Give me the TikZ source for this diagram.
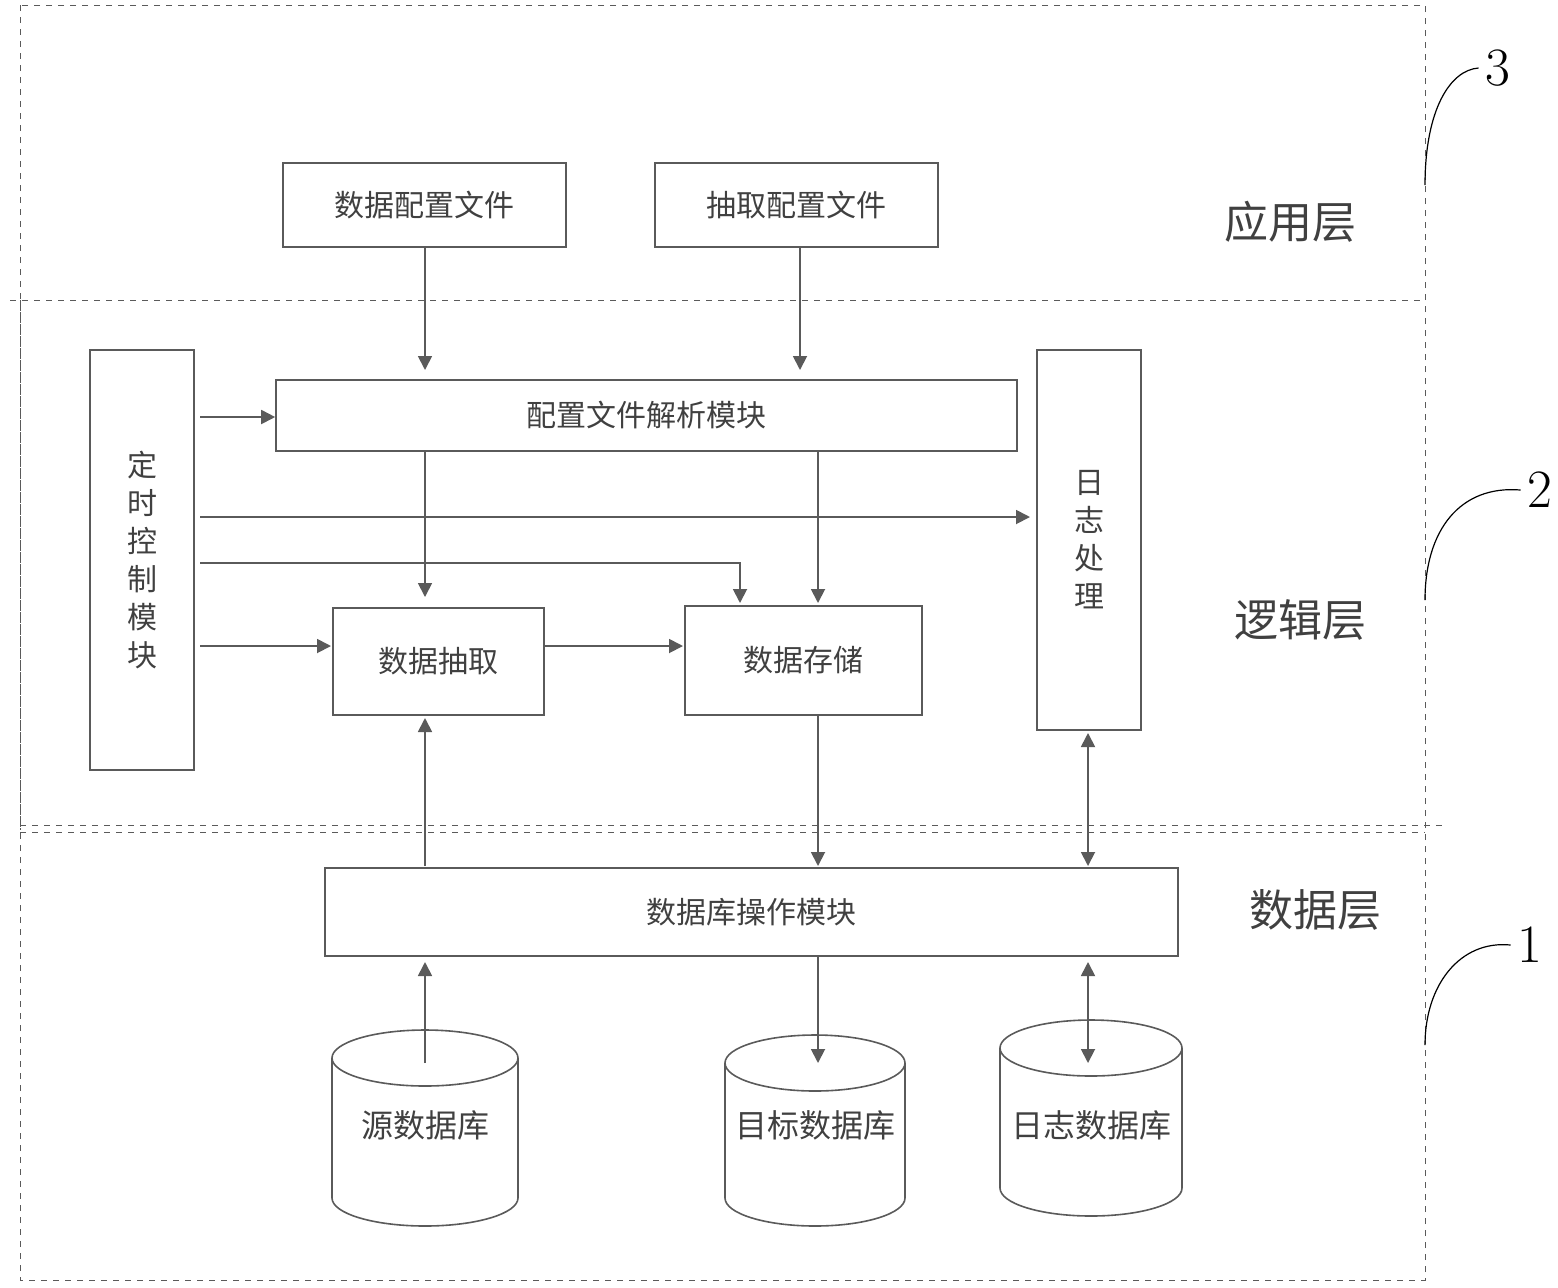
\documentclass[tikz,border=0pt]{standalone}
\usepackage{fontspec}
\newfontfamily\cjk{Noto Sans CJK SC}
\usetikzlibrary{arrows.meta}
\definecolor{ln}{RGB}{90,90,90}
\begin{document}
\begin{tikzpicture}[x=0.5pt,y=-0.5pt,
 box/.style={draw=ln,line width=0.8pt},
 lbl/.style={font=\cjk\fontsize{15}{15}\selectfont,text=black!75},
 lay/.style={font=\cjk\fontsize{22}{22}\selectfont,text=black!75},
 num/.style={font=\fontsize{27}{27}\selectfont},
 ar/.style={draw=ln,line width=0.9pt,-{Triangle[length=7pt,width=7pt]}},
 dar/.style={draw=ln,line width=0.9pt,{Triangle[length=7pt,width=7pt]}-{Triangle[length=7pt,width=7pt]}},
 dsh/.style={draw=ln,dashed,line width=0.5pt}]
\useasboundingbox (0,0) rectangle (1558,1287);
% frames
\draw[dsh] (20,5) rectangle (1425,1280);
\draw[dsh] (10,300) -- (1425,300);
\draw[dsh] (20,300) -- (20,830);
\draw[dsh] (20,825) -- (1445,825);
\draw[dsh] (20,832) -- (1425,832);
% boxes
\node[box,minimum width=141.5pt,minimum height=42pt,lbl] (dcf) at (424.5,205) {数据配置文件};
\node[box,minimum width=141.5pt,minimum height=42pt,lbl] (ecf) at (796.5,205) {抽取配置文件};
\node[box,minimum width=370.5pt,minimum height=35.5pt,lbl] (parse) at (646.5,415.5) {配置文件解析模块};
\node[box,minimum width=52pt,minimum height=210pt,lbl,align=center] (timer) at (142,560) {定\\[4pt]时\\[4pt]控\\[4pt]制\\[4pt]模\\[4pt]块};
\node[box,minimum width=52pt,minimum height=190pt,lbl,align=center] (log) at (1089,540) {日\\[4pt]志\\[4pt]处\\[4pt]理};
\node[box,minimum width=105.5pt,minimum height=53.5pt,lbl] (ext) at (438.5,661.5) {数据抽取};
\node[box,minimum width=118.5pt,minimum height=54.5pt,lbl] (sto) at (803.5,660.5) {数据存储};
\node[box,minimum width=426.5pt,minimum height=44pt,lbl] (dbop) at (751.5,912) {数据库操作模块};
% cylinders
\foreach \n/\cx/\rx/\t/\b/\txt in {src/425/93/1058/1198/源数据库, tgt/815/90/1063/1198/目标数据库, ldb/1091/91/1048/1188/日志数据库}{
 \draw[box] (\cx-\rx,\t) -- (\cx-\rx,\b) arc[start angle=180,end angle=0,x radius=\rx,y radius=28] -- (\cx+\rx,\t);
 \draw[box] (\cx,\t) ellipse[x radius=\rx,y radius=28];
 \node[lbl,font=\cjk\fontsize{16}{16}\selectfont] (\n) at (\cx,1125) {\txt};
}
\coordinate (srcT) at (425,1063);
\coordinate (tgtT) at (818,1063);
\coordinate (ldbT) at (1088,1063);
% layer labels
\node[lay] at (1290,222) {应用层};
\node[lay] at (1300,620) {逻辑层};
\node[lay] at (1315,910) {数据层};
\node[num] (n3) at (1498,68) {3};
\node[num] (n2) at (1540,490) {2};
\node[num] (n1) at (1530,945) {1};
\draw[line width=0.6pt] (1425,185) .. controls (1425,110) and (1450,70) .. (n3.west);
\draw[line width=0.6pt] (1425,600) .. controls (1425,530) and (1460,485) .. (n2.west);
\draw[line width=0.6pt] (1425,1045) .. controls (1425,985) and (1460,940) .. (n1.west);
% arrows
\draw[ar] (dcf.south -| 425,0) -- (425,370);
\draw[ar] (800,247) -- (800,370);
\draw[ar] (200,417) -- (parse.west |- 0,417);
\draw[ar] (425,451) -- (425,597);
\draw[ar] (818,451) -- (818,603);
\draw[ar] (200,517) -- (1030,517);
\draw[ar] (200,563) -- (740,563) -- (740,603);
\draw[ar] (200,646) -- (331,646);
\draw[ar] (544,646) -- (683,646);
\draw[ar] (425,866) -- (425,718);
\draw[ar] (818,715) -- (818,866);
\draw[dar] (1088,733) -- (1088,866);
\draw[ar] (srcT) -- (425,962);
\draw[ar] (818,956) -- (tgtT);
\draw[dar] (1088,962) -- (ldbT);
\end{tikzpicture}
\end{document}
